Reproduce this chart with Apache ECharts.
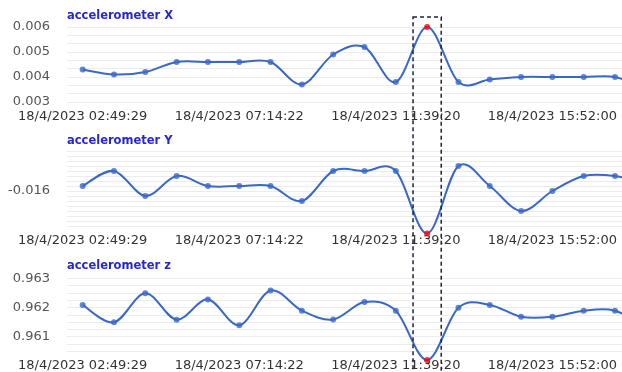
<!DOCTYPE html>
<html>
<head>
<meta charset="utf-8">
<script src="https://cdn.jsdelivr.net/npm/echarts@6/dist/echarts.min.js"></script>
<style>
html,body{margin:0;padding:0;background:#fff;}
#chart{width:622px;height:372px;}
</style>
</head>
<body>
<div id="chart"></div>
<script>
// ---- data ----
const categories = ['18/4/2023 02:49:29','','','','','18/4/2023 07:14:22','','','','','18/4/2023 11:39:20','','','','','18/4/2023 15:52:00','','',''];
const titles = ['accelerometer X','accelerometer Y','accelerometer z'];
const accelX = [0.0043,0.0041,0.0042,0.0046,0.0046,0.0046,0.0046,0.0037,0.0049,0.0052,0.0038,0.0060,0.0038,0.0039,0.0040,0.0040,0.0040,0.0040,0.0035];
const accelY = [-0.0158,-0.0152,-0.0162,-0.0154,-0.0158,-0.0158,-0.0158,-0.0164,-0.0152,-0.0152,-0.0152,-0.0177,-0.0150,-0.0158,-0.0168,-0.0160,-0.0154,-0.0154,-0.0157];
const accelZ = [0.96209,0.96149,0.96249,0.96158,0.96228,0.96139,0.96259,0.96189,0.96159,0.96219,0.96189,0.96019,0.96199,0.96209,0.96168,0.96168,0.96189,0.96189,0.9613];
const eventIndex = 11;
const yTicksX = [0.003,0.004,0.005,0.006];
const yTicksY = [-0.016];
const yTicksZ = [0.961,0.962,0.963];

// ---- styles ----
const lineColor = '#3a68c8';
const eventColor = '#ff0000';
const majorGrid = '#d6d6d6';
const minorGrid = '#ececec';
const FONT = 'DejaVu Sans';

const grids = [
  {left:67, width:595, top:27, height:75, outerBoundsMode:'none', containLabel:false},
  {left:67, width:595, top:151, height:75, outerBoundsMode:'none', containLabel:false},
  {left:67, width:595, top:278.5, height:72.5, outerBoundsMode:'none', containLabel:false}
];

function xAxis(i){
  return {
    type:'category', gridIndex:i, data:categories, boundaryGap:true,
    axisLine:{show:false}, axisTick:{show:false},
    axisLabel:{interval:4, margin:8, color:'#333', fontSize:13, fontFamily:FONT, hideOverlap:false},
    splitLine:{show:false}
  };
}
function labelFmt(ticks){
  return function(v){
    for (const t of ticks){ if (Math.abs(v - t) < 1e-9) return t.toFixed(3); }
    return '';
  };
}
function majorLines(ticks){
  return {
    silent:true, symbol:['none','none'], label:{show:false},
    lineStyle:{color:majorGrid, type:'solid', width:1},
    data: ticks.map(t => ({yAxis:t}))
  };
}
function pointData(arr){
  return arr.map((v,i) => i === eventIndex ? {value:[i, v], itemStyle:{color:eventColor}} : [i, v]);
}
// smooth curve (Catmull-Rom) drawn segment by segment through the axis scales
function curveSeries(i, arr, ticks){
  return {
    type:'custom', xAxisIndex:i, yAxisIndex:i, clip:false, silent:true, z:2,
    data: arr.map((v,k) => [k, v]),
    renderItem: function(params, api){
      const k = params.dataIndex;
      if (k >= arr.length - 1) return null;
      const P = j => { const jj = Math.max(0, Math.min(arr.length - 1, j)); return api.coord([jj, arr[jj]]); };
      const p0 = P(k-1), p1 = P(k), p2 = P(k+1), p3 = P(k+2);
      return {
        type:'bezierCurve',
        shape:{
          x1:p1[0], y1:p1[1], x2:p2[0], y2:p2[1],
          cpx1:p1[0] + (p2[0]-p0[0])/6, cpy1:p1[1] + (p2[1]-p0[1])/6,
          cpx2:p2[0] - (p3[0]-p1[0])/6, cpy2:p2[1] - (p3[1]-p1[1])/6
        },
        style:{stroke:lineColor, lineWidth:2, fill:null}
      };
    },
    markLine: majorLines(ticks)
  };
}
function pointSeries(i, arr){
  return {
    type:'scatter', xAxisIndex:i, yAxisIndex:i, data:pointData(arr),
    clip:false, symbol:'circle', symbolSize:6, itemStyle:{color:lineColor}, z:3
  };
}

const option = {
  animation:false,
  backgroundColor:'#fff',
  title: titles.map((t,i) => ({
    text:t, left:67, top:[10,135,260][i], padding:0,
    textStyle:{color:'#2727cf', fontSize:11.5, fontWeight:'bold', fontFamily:FONT}
  })),
  grid: grids,
  xAxis: [xAxis(0), xAxis(1), xAxis(2)],
  yAxis: [
    {type:'value', gridIndex:0, min:0.003, max:0.006, interval:0.001,
     axisLine:{show:false}, axisTick:{show:false},
     axisLabel:{formatter:labelFmt(yTicksX), margin:17, color:'#555', fontSize:13, fontFamily:FONT},
     splitLine:{show:true, lineStyle:{color:minorGrid}},
     minorTick:{show:false, splitNumber:3},
     minorSplitLine:{show:true, lineStyle:{color:minorGrid}}},
    {type:'value', gridIndex:1, min:-0.0174, max:-0.0144, interval:0.0002,
     axisLine:{show:false}, axisTick:{show:false},
     axisLabel:{formatter:labelFmt(yTicksY), margin:17, color:'#555', fontSize:13, fontFamily:FONT},
     splitLine:{show:true, lineStyle:{color:minorGrid}}},
    {type:'value', gridIndex:2, min:0.9605, max:0.963, interval:0.0005,
     axisLine:{show:false}, axisTick:{show:false},
     axisLabel:{formatter:labelFmt(yTicksZ), margin:17, color:'#555', fontSize:13, fontFamily:FONT},
     splitLine:{show:true, lineStyle:{color:minorGrid}},
     minorTick:{show:false, splitNumber:2},
     minorSplitLine:{show:true, lineStyle:{color:minorGrid}}}
  ],
  series: [
    curveSeries(0, accelX, yTicksX), pointSeries(0, accelX),
    curveSeries(1, accelY, yTicksY), pointSeries(1, accelY),
    curveSeries(2, accelZ, yTicksZ), pointSeries(2, accelZ)
  ]
};

const chart = echarts.init(document.getElementById('chart'), null, {renderer:'canvas'});
chart.setOption(option);

// dashed box around the event sample, positioned from the axes
const cx = chart.convertToPixel({xAxisIndex:0}, eventIndex);
const step = chart.convertToPixel({xAxisIndex:0}, eventIndex + 1) - cx;
const topY = chart.convertToPixel({yAxisIndex:0}, 0.006) - 10;
const boxW = step * 0.9;
chart.setOption({
  graphic: [{
    type:'rect', z:10, silent:true,
    shape:{x:cx - boxW/2, y:topY, width:boxW, height:400},
    style:{fill:'none', stroke:'#1c2436', lineWidth:1.5, lineDash:[4,3]}
  }]
});
</script>
</body>
</html>
